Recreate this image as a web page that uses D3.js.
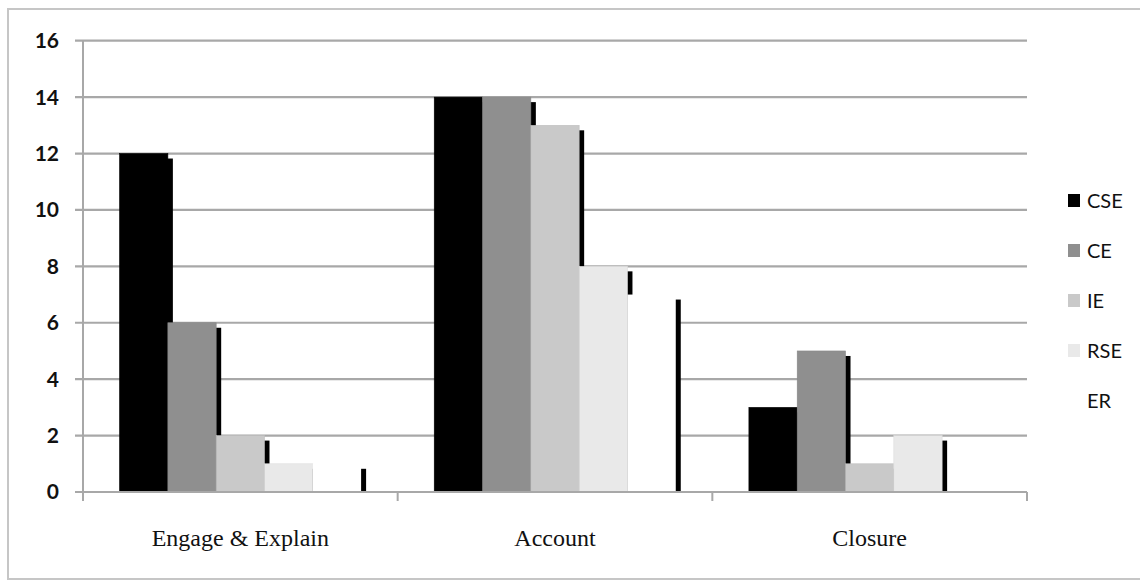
<!DOCTYPE html>
<html>
<head>
<meta charset="utf-8">
<script src="https://cdn.jsdelivr.net/npm/d3@7"></script>
<style>
  html, body { margin: 0; padding: 0; background: #fff; }
  svg { display: block; }
</style>
</head>
<body>
<svg id="chart" width="1140" height="581"></svg>
<script>
// Phases of the conversation and the count of each engagement type
const categories = ["Engage & Explain", "Account", "Closure"];
const seriesNames = ["CSE", "CE", "IE", "RSE", "ER"];
const seriesColors = ["#000000", "#8f8f8f", "#c9c9c9", "#e9e9e9", "#ffffff"];
const valuesCSE = [12, 14, 3];
const valuesCE  = [6, 14, 5];
const valuesIE  = [2, 13, 1];
const valuesRSE = [1, 8, 2];
const valuesER  = [1, 7, 0];
const yTicks = [0, 2, 4, 6, 8, 10, 12, 14, 16];

const seriesValues = [valuesCSE, valuesCE, valuesIE, valuesRSE, valuesER];

const svg = d3.select("#chart");

// Outer frame
svg.append("rect")
  .attr("x", 8).attr("y", 9)
  .attr("width", 1150).attr("height", 570)
  .attr("fill", "none")
  .attr("stroke", "#c6c6c6")
  .attr("stroke-width", 2);

const plotLeft = 83, plotRight = 1027, plotTop = 40.7, plotBottom = 492;

const x0 = d3.scaleBand().domain(categories).range([plotLeft, plotRight]).padding(0);
const x1 = d3.scaleBand().domain(seriesNames).range([0, x0.bandwidth()])
  .paddingInner(0).paddingOuter(0.757);
const y = d3.scaleLinear().domain([0, 16]).range([plotBottom, plotTop]);

// Horizontal gridlines with short ticks left of the axis
svg.append("g").selectAll("line").data(yTicks).join("line")
  .attr("x1", plotLeft - 8).attr("x2", plotRight)
  .attr("y1", d => y(d)).attr("y2", d => y(d))
  .attr("stroke", "#a8a8a8").attr("stroke-width", 2.2);

// Y axis line
svg.append("line")
  .attr("x1", plotLeft).attr("x2", plotLeft)
  .attr("y1", plotTop).attr("y2", plotBottom + 9)
  .attr("stroke", "#a8a8a8").attr("stroke-width", 2);

// Y tick labels
svg.append("g").selectAll("text").data(yTicks).join("text")
  .attr("x", 59).attr("y", d => y(d) + 2)
  .attr("text-anchor", "end")
  .attr("dominant-baseline", "middle")
  .attr("font-family", "Lato, 'Open Sans', sans-serif")
  .attr("font-weight", "bold")
  .attr("font-size", 21)
  .attr("fill", "#111")
  .text(d => d);

// Flatten to one record per bar
const bars = [];
categories.forEach((c, ci) => {
  seriesNames.forEach((s, si) => {
    bars.push({ cat: c, series: s, value: seriesValues[si][ci], color: seriesColors[si] });
  });
});

const shadowDx = 5, shadowDy = 5;

// Drop shadows, drawn first so neighbouring bars cover them
svg.append("g").selectAll("rect").data(bars.filter(d => d.value > 0)).join("rect")
  .attr("x", d => x0(d.cat) + x1(d.series) + shadowDx)
  .attr("y", d => y(d.value) + shadowDy)
  .attr("width", x1.bandwidth())
  .attr("height", d => Math.max(0, y(0) - y(d.value) - shadowDy))
  .attr("fill", "#000");

// Bars
svg.append("g").selectAll("rect").data(bars.filter(d => d.value > 0)).join("rect")
  .attr("x", d => x0(d.cat) + x1(d.series))
  .attr("y", d => y(d.value))
  .attr("width", x1.bandwidth())
  .attr("height", d => y(0) - y(d.value))
  .attr("fill", d => d.color)
  .attr("stroke", d => d.series === "ER" ? "none" : d3.color(d.color).darker(0.15))
  .attr("stroke-width", 0.6);

// X axis baseline with ticks at category boundaries
svg.append("line")
  .attr("x1", plotLeft).attr("x2", plotRight)
  .attr("y1", plotBottom).attr("y2", plotBottom)
  .attr("stroke", "#a8a8a8").attr("stroke-width", 2);

const boundaries = categories.map(c => x0(c) + x0.bandwidth());
svg.append("g").selectAll("line").data(boundaries).join("line")
  .attr("x1", d => d).attr("x2", d => d)
  .attr("y1", plotBottom).attr("y2", plotBottom + 9)
  .attr("stroke", "#a8a8a8").attr("stroke-width", 2);

// Category labels
svg.append("g").selectAll("text").data(categories).join("text")
  .attr("x", d => x0(d) + x0.bandwidth() / 2)
  .attr("y", 546)
  .attr("text-anchor", "middle")
  .attr("font-family", "'Liberation Serif', 'Times New Roman', serif")
  .attr("font-size", 24)
  .attr("fill", "#111")
  .text(d => d);

// Legend
const legend = svg.append("g").selectAll("g").data(seriesNames).join("g")
  .attr("transform", (d, i) => `translate(1068, ${203 + i * 50})`);

legend.append("rect")
  .attr("x", 0).attr("y", -9)
  .attr("width", 12).attr("height", 13)
  .attr("fill", (d, i) => seriesColors[i]);

legend.append("text")
  .attr("x", 19).attr("y", 0)
  .attr("dominant-baseline", "middle")
  .attr("font-family", "Lato, 'Open Sans', sans-serif")
  .attr("font-size", 20)
  .attr("fill", "#111")
  .text(d => d);
</script>
</body>
</html>
